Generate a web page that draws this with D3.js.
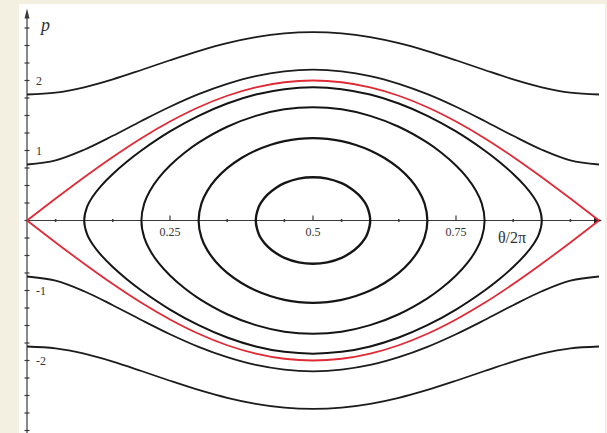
<!DOCTYPE html>
<html><head><meta charset="utf-8">
<script src="https://cdn.jsdelivr.net/npm/d3@7"></script>
<style>
html,body{margin:0;padding:0;background:#f4f0e1;}
svg{display:block;}
</style></head>
<body>
<svg id="chart" width="607" height="433"></svg>
<script>
// ---- data ----
// open orbits (rotations) sampled at theta/2pi = 0, 0.05, ..., 1
const thetaGrid = [0,0.05,0.1,0.15,0.2,0.25,0.3,0.35,0.4,0.45,0.5,0.55,0.6,0.65,0.7,0.75,0.8,0.85,0.9,0.95,1];
const rotOuterP = [1.8,1.827,1.903,2.016,2.150,2.289,2.420,2.533,2.619,2.673,2.691,2.673,2.619,2.533,2.420,2.289,2.150,2.016,1.903,1.827,1.8];
const rotInnerP = [0.8,0.859,1.011,1.210,1.422,1.625,1.805,1.953,2.064,2.131,2.154,2.131,2.064,1.953,1.805,1.625,1.422,1.210,1.011,0.859,0.8];
const separatrixP = [0,0.313,0.618,0.908,1.176,1.414,1.618,1.782,1.902,1.975,2.0,1.975,1.902,1.782,1.618,1.414,1.176,0.908,0.618,0.313,0];

// closed orbits (librations): upper half, left turning point -> right turning point
const orbit1X = [0.4,0.405,0.41,0.42,0.435,0.45,0.475,0.5,0.525,0.55,0.565,0.58,0.59,0.595,0.6];
const orbit1P = [0,0.190,0.266,0.367,0.466,0.533,0.598,0.618,0.598,0.533,0.466,0.367,0.266,0.190,0];
const orbit2X = [0.3,0.305,0.315,0.33,0.35,0.375,0.4,0.425,0.45,0.475,0.5,0.525,0.55,0.575,0.6,0.625,0.65,0.67,0.685,0.695,0.7];
const orbit2P = [0,0.244,0.420,0.588,0.747,0.892,1.0,1.079,1.133,1.165,1.176,1.165,1.133,1.079,1.0,0.892,0.747,0.588,0.420,0.244,0];
const orbit3X = [0.2,0.205,0.215,0.23,0.25,0.275,0.3,0.35,0.4,0.45,0.5,0.55,0.6,0.65,0.7,0.725,0.75,0.77,0.785,0.795,0.8];
const orbit3P = [0,0.245,0.426,0.606,0.786,0.965,1.112,1.339,1.495,1.588,1.618,1.588,1.495,1.339,1.112,0.965,0.786,0.606,0.426,0.245,0];
const orbit4X = [0.1,0.105,0.115,0.13,0.15,0.175,0.2,0.25,0.3,0.35,0.4,0.45,0.5,0.55,0.6,0.65,0.7,0.75,0.8,0.825,0.85,0.87,0.885,0.895,0.9];
const orbit4P = [0,0.194,0.343,0.499,0.665,0.843,1.0,1.272,1.495,1.671,1.799,1.876,1.902,1.876,1.799,1.671,1.495,1.272,1.0,0.843,0.665,0.499,0.343,0.194,0];

// tick values and labels
const xMajorTicks = [0.25,0.5,0.75];
const xMajorLabels = ["0.25","0.5","0.75"];
const xMinorTicks = [0.05,0.15,0.35,0.45,0.55,0.65,0.85,0.95];
const yMajorTicks = [-2,-1,1,2];
const yMajorLabels = ["-2","-1","1","2"];
const yMinorTicks = d3.range(-3, 2.8, 0.25);

// ---- drawing ----
const svg = d3.select("#chart");
svg.append("rect").attr("x",0).attr("y",0).attr("width",607).attr("height",433).attr("fill","#f4f0e1");
svg.append("rect").attr("x",19).attr("y",4).attr("width",586).attr("height",429).attr("fill","#ffffff");

const x = d3.scaleLinear().domain([0,1]).range([27,599]);
const y = d3.scaleLinear().domain([0,1]).range([220.5,150.5]);

const axisColor = "#3a3a3a";
const g = svg.append("g");

// y axis
g.append("line").attr("x1",x(0)).attr("x2",x(0)).attr("y1",433).attr("y2",y(2.9))
  .attr("stroke",axisColor).attr("stroke-width",1.2);
g.append("path").attr("d",`M${x(0)},${y(2.9)-9} L${x(0)-2.5},${y(2.9)+1} L${x(0)+2.5},${y(2.9)+1} Z`).attr("fill",axisColor);
g.selectAll(".ymin").data(yMinorTicks).enter().append("line")
  .attr("x1",x(0)-2.5).attr("x2",x(0)+2.5).attr("y1",d=>y(d)).attr("y2",d=>y(d))
  .attr("stroke",axisColor).attr("stroke-width",1.2);
g.selectAll(".ylab").data(yMajorTicks).enter().append("text")
  .attr("x",x(0)+9).attr("y",d=>y(d)).attr("dy","0.35em")
  .attr("font-family","Liberation Serif, serif").attr("font-size",12).attr("fill","#333")
  .text((d,i)=>yMajorLabels[i]);
g.append("text").attr("x",41).attr("y",31).attr("font-family","Liberation Serif, serif")
  .attr("font-style","italic").attr("font-size",18).attr("fill","#333").text("p");

// x axis
g.append("line").attr("x1",x(0)).attr("x2",x(1)).attr("y1",y(0)).attr("y2",y(0))
  .attr("stroke",axisColor).attr("stroke-width",1.2);
g.append("path").attr("d",`M${x(1)+3},${y(0)} L${x(1)-5},${y(0)-3} L${x(1)-5},${y(0)+3} Z`).attr("fill","#222");
g.selectAll(".xmin").data(xMinorTicks).enter().append("line")
  .attr("x1",d=>x(d)).attr("x2",d=>x(d)).attr("y1",y(0)-1.5).attr("y2",y(0)+1.5)
  .attr("stroke",axisColor).attr("stroke-width",1.5);
g.selectAll(".xmaj").data(xMajorTicks).enter().append("line")
  .attr("x1",d=>x(d)).attr("x2",d=>x(d)).attr("y1",y(0)-5).attr("y2",y(0))
  .attr("stroke",axisColor).attr("stroke-width",1.2);
g.selectAll(".xlab").data(xMajorTicks).enter().append("text")
  .attr("x",d=>x(d)).attr("y",y(0)+15).attr("text-anchor","middle")
  .attr("font-family","Liberation Serif, serif").attr("font-size",12).attr("fill","#333")
  .text((d,i)=>xMajorLabels[i]);
g.append("text").attr("x",512).attr("y",243).attr("text-anchor","middle")
  .attr("font-family","Liberation Serif, serif").attr("font-size",16).attr("fill","#333").text("θ/2π");

// curves
const openLine = d3.line().x(d=>x(d[0])).y(d=>y(d[1])).curve(d3.curveCatmullRom.alpha(0.5));
const closedLine = d3.line().x(d=>x(d[0])).y(d=>y(d[1])).curve(d3.curveCatmullRomClosed.alpha(0.5));

function drawOpen(vals, sign, color, w){
  const pts = thetaGrid.map((t,i)=>[t, sign*vals[i]]);
  svg.append("path").attr("d",openLine(pts)).attr("fill","none").attr("stroke",color).attr("stroke-width",w);
}
function drawClosed(xs, ps, w){
  const pts = xs.map((t,i)=>[t, ps[i]]);
  for(let i=xs.length-2;i>=1;i--) pts.push([xs[i], -ps[i]]);
  svg.append("path").attr("d",closedLine(pts)).attr("fill","none").attr("stroke","#151515").attr("stroke-width",w);
}

[1,-1].forEach(s=>{
  drawOpen(rotOuterP, s, "#1c1c1c", 1.8);
  drawOpen(rotInnerP, s, "#1c1c1c", 1.8);
});
drawClosed(orbit1X, orbit1P, 2.4);
drawClosed(orbit2X, orbit2P, 2.2);
drawClosed(orbit3X, orbit3P, 2.0);
drawClosed(orbit4X, orbit4P, 2.0);
[1,-1].forEach(s=>drawOpen(separatrixP, s, "#e02a36", 1.8));
</script>
</body></html>
